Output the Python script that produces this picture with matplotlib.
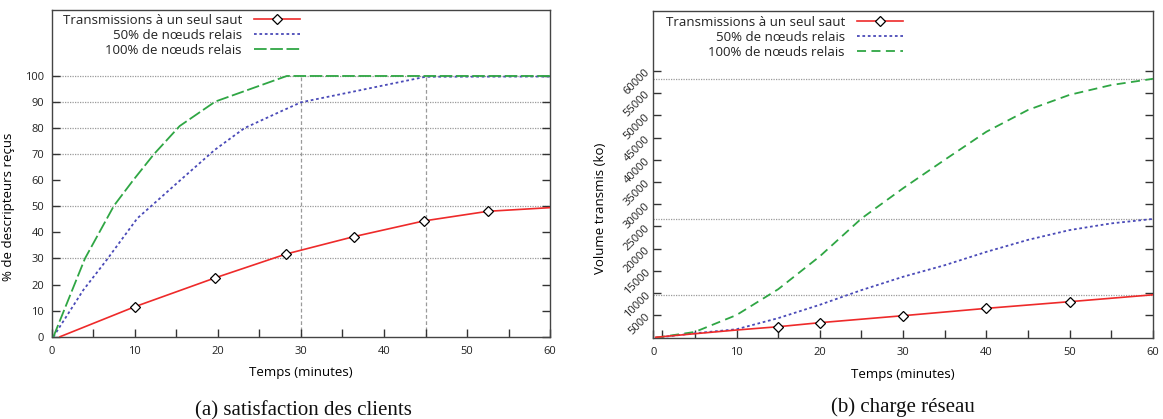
import numpy as np
import matplotlib
matplotlib.use("Agg")
import matplotlib.pyplot as plt

# ---------- data ----------
# (a) satisfaction des clients
sat_single_t = [1.0, 10.0, 19.7, 28.2, 36.4, 44.8, 52.5, 60.0]
sat_single_v = [0, 11.5, 22.6, 31.7, 38.4, 44.4, 48.1, 49.5]
sat_half_t = [0.2, 3.8, 6.6, 10.3, 11.9, 15.5, 19.6, 23.2, 27.5, 30.0, 36.3, 45.0, 60.0]
sat_half_v = [0, 17.9, 29.4, 45.4, 49.9, 60.1, 71.6, 80.0, 86.3, 89.9, 94.0, 99.7, 99.8]
sat_full_t = [0.2, 4.0, 7.5, 9.8, 12.3, 15.4, 19.7, 28.3, 60.0]
sat_full_v = [0, 30.0, 50.3, 60.0, 70.0, 80.8, 90.2, 100.0, 100.0]
sat_ref_levels = [30, 50, 70, 80, 90, 100]
sat_ref_times = [30, 45]

# (b) charge reseau
load_single_t = [0.3, 5, 10, 15, 20, 30, 40, 50, 60]
load_single_v = [100, 900, 1730, 2470, 3380, 4950, 6600, 8100, 9650]
load_t = [0.3, 5, 10, 15, 20, 25, 30, 35, 40, 45, 50, 55, 60]
load_half_v = [0, 1000, 1900, 4400, 7400, 10700, 13700, 16300, 19300, 22000, 24200, 25700, 26700]
load_full_v = [0, 1300, 5100, 10900, 18300, 26800, 33600, 40000, 46300, 51200, 54600, 56800, 58200]

labels = ["Transmissions à un seul saut", "50% de nœuds relais", "100% de nœuds relais"]

RED = "#ee2a2a"
BLUE = "#4a4ab8"
GREEN = "#2fa644"
GRID = "#9a9a9a"
AXIS = "#444444"

plt.rcParams["font.family"] = ["Open Sans", "DejaVu Sans"]
plt.rcParams["text.color"] = "#222222"


def style_axes(ax):
    for s in ax.spines.values():
        s.set_color(AXIS)
        s.set_linewidth(1.0)
    ax.tick_params(axis="both", which="both", direction="in", length=6,
                   width=1.0, color="#333333", labelsize=8, labelcolor="#222222")
    ax.tick_params(axis="y", which="both", right=True, left=True, pad=5.5)
    ax.tick_params(axis="x", which="both", top=False, bottom=True, pad=6.5)


def add_legend(ax, anchor):
    leg = ax.legend(loc="upper right", bbox_to_anchor=anchor, frameon=False,
                    markerfirst=False, fontsize=9.5, handlelength=3.5,
                    handletextpad=0.9, labelspacing=0.15, borderpad=0,
                    borderaxespad=0)
    return leg


def main():
    fig = plt.figure(figsize=(11.63, 4.19), dpi=100)

    # ---------- (a) ----------
    ax1 = fig.add_axes([0.0445, 0.1964, 0.4285, 0.7797])
    for y in sat_ref_levels:
        ax1.axhline(y, color=GRID, lw=0.9, ls=(0, (1, 1)), zorder=1)
    ax1.vlines(sat_ref_times, 0, 100, colors=GRID, lw=0.9, ls=(0, (3, 2)), zorder=1)

    ax1.plot(sat_single_t, sat_single_v, color=RED, lw=1.2, marker="D",
             markersize=5.5, markerfacecolor="white", markeredgecolor="black",
             markeredgewidth=0.9, markevery=slice(1, -1), label=labels[0], zorder=4)
    ax1.plot(sat_half_t, sat_half_v, color=BLUE, lw=1.3, ls=(0, (1.5, 1.5)),
             label=labels[1], zorder=3)
    ax1.plot(sat_full_t, sat_full_v, color=GREEN, lw=1.3, ls=(0, (7, 2)),
             label=labels[2], zorder=3)

    ax1.set_xlim(0, 60)
    ax1.set_ylim(0, 125.3)
    ax1.set_xticks(np.arange(0, 61, 10))
    ax1.set_xticks(np.arange(5, 60, 10), minor=True)
    ax1.set_yticks(np.arange(0, 101, 10))
    style_axes(ax1)
    ax1.set_xlabel("Temps (minutes)", fontsize=9.5)
    ax1.xaxis.set_label_coords(0.5, -0.089)
    ax1.set_ylabel("% de descripteurs reçus", fontsize=9.5)
    ax1.yaxis.set_label_coords(-0.074, 0.397)
    add_legend(ax1, (0.498, 0.988))

    # ---------- (b) ----------
    ax2 = fig.add_axes([0.5617, 0.1940, 0.4297, 0.7804])
    for v in (load_single_v[-1], load_half_v[-1], load_full_v[-1]):
        ax2.axhline(v, color=GRID, lw=0.9, ls=(0, (1, 1)), zorder=1)

    ax2.plot(load_single_t, load_single_v, color=RED, lw=1.2, marker="D",
             markersize=5.5, markerfacecolor="white", markeredgecolor="black",
             markeredgewidth=0.9, markevery=[3, 4, 5, 6, 7], label=labels[0], zorder=4)
    ax2.plot(load_t, load_half_v, color=BLUE, lw=1.3, ls=(0, (1.5, 1.5)),
             label=labels[1], zorder=3)
    ax2.plot(load_t, load_full_v, color=GREEN, lw=1.3, ls=(0, (5, 3)),
             label=labels[2], zorder=3)

    ax2.set_xlim(0, 60)
    ax2.set_ylim(0, 73500)
    ax2.set_xticks(np.arange(0, 61, 10))
    ax2.set_xticks([1] + list(np.arange(5, 60, 10)), minor=True)
    ax2.set_yticks(np.arange(5000, 60001, 5000))
    style_axes(ax2)
    ax2.tick_params(axis="y", pad=3.5)
    for lab in ax2.get_yticklabels():
        lab.set_rotation(45)
        lab.set_rotation_mode("anchor")
        lab.set_ha("right")
        lab.set_va("center")
    ax2.set_xlabel("Temps (minutes)", fontsize=9.5)
    ax2.xaxis.set_label_coords(0.5, -0.092)
    ax2.set_ylabel("Volume transmis (ko)", fontsize=9.5)
    ax2.yaxis.set_label_coords(-0.093, 0.397)
    add_legend(ax2, (0.4997, 0.985))

    # captions
    fig.text(0.2608, 0.019, "(a) satisfaction des clients", ha="center", va="center",
             family="Liberation Serif", fontsize=15, color="#111111")
    fig.text(0.7765, 0.028, "(b) charge réseau", ha="center", va="center",
             family="Liberation Serif", fontsize=15, color="#111111")

    fig.savefig("out.png", dpi=100)


if __name__ == "__main__":
    main()
